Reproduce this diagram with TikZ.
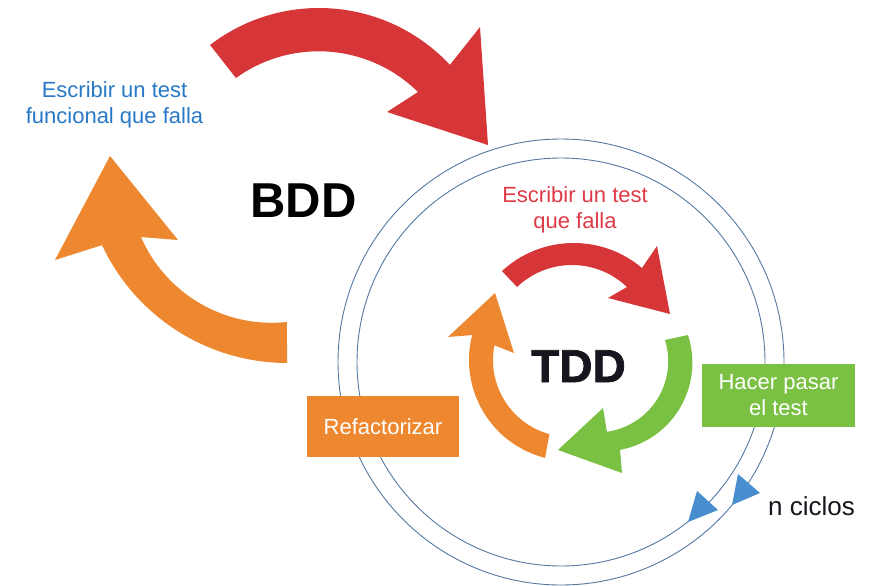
\documentclass[tikz,border=0pt]{standalone}
\usepackage{fontspec}
\usetikzlibrary{calc}
\setmainfont{Liberation Sans}
\newfontfamily\heavysans[FakeBold=1.6]{Liberation Sans Bold}
\definecolor{bandred}{RGB}{214,54,56}
\definecolor{bandorange}{RGB}{237,136,48}
\definecolor{bandgreen}{RGB}{122,193,67}
\definecolor{ringblue}{RGB}{84,120,160}
\definecolor{headblue}{RGB}{72,142,206}
\definecolor{textblue}{RGB}{40,120,200}
\definecolor{textred}{RGB}{222,58,70}
\definecolor{inkdark}{RGB}{22,22,30}
\begin{document}
\begin{tikzpicture}[x=1pt,y=-1pt,
  loopline/.style={draw=ringblue,line width=0.9pt},
  cyclehead/.style={fill=headblue},
  plainlabel/.style={anchor=base,inner sep=0pt,font=\fontsize{22}{26}\selectfont},
  stagebox/.style={inner sep=0pt,text=white,align=center,font=\fontsize{22}{26}\selectfont}]
\useasboundingbox (0,0) rectangle (889,586);

% the two loop rings around the TDD cycle
\coordinate (hub) at (561,362);
\draw[loopline] (hub) circle[radius=223];
\draw[loopline] (hub) circle[radius=204];

% outer BDD cycle: red arrow (top)
\fill[bandred] ($(319,187)+(-127.5:179)$) arc[start angle=-127.5,end angle=-43,radius=179]
  -- (480,27) -- (488,145) -- (387,112)
  -- ($(318.7,192.7)+(-45.4:141.4)$) arc[start angle=-45.4,end angle=-125.8,radius=141.4] -- cycle;

% outer BDD cycle: orange arrow (left)
\fill[bandorange] ($(287.4,158.3)+(90.1:204.7)$) arc[start angle=90.1,end angle=154.9,radius=204.7]
  -- (55,260) -- (110,156) -- (178,240)
  -- ($(271.8,180.2)+(156.5:142.6)$) arc[start angle=156.5,end angle=83.9,radius=142.6] -- cycle;

% inner TDD cycle: red arrow
\fill[bandred] ($(573.7,348.8)+(-132.7:105.8)$) arc[start angle=-132.7,end angle=-49.8,radius=105.8]
  -- (657,246) -- (670,314) -- (608,298)
  -- ($(572,344.7)+(-46.4:79.7)$) arc[start angle=-46.4,end angle=-133.6,radius=79.7] -- cycle;

% inner TDD cycle: green arrow
\fill[bandgreen] ($(603.7,362.7)+(-18.2:88.7)$) arc[start angle=-18.2,end angle=79.4,radius=88.7]
  -- (622,473) -- (558,450) -- (603,408)
  -- ($(596.9,361.2)+(81.9:71.3)$) arc[start angle=81.9,end angle=-17.3,radius=71.3] -- cycle;

% inner TDD cycle: orange arrow
\fill[bandorange] ($(570,360)+(104.3:101)$) arc[start angle=104.3,end angle=194.3,radius=101]
  -- (448,337) -- (495,293) -- (514,353)
  -- ($(570,360)+(191:77)$) arc[start angle=191,end angle=105.5,radius=77] -- cycle;

% arrowheads on the rings
\fill[cyclehead] (697,491) -- (718,510) -- (688,522) -- cycle;
\fill[cyclehead] (738,474) -- (760,493) -- (732,505) -- cycle;

% stage boxes
\node[stagebox,fill=bandorange,minimum width=152pt,minimum height=61pt] (refactor) at (383,426.5) {Refactorizar};
\node[stagebox,fill=bandgreen,minimum width=153pt,minimum height=63pt] (pass) at (778.5,395.5) {Hacer pasar\\el test};

% labels
\node[plainlabel,text=textblue] (bddline1) at (114.5,97) {Escribir un test};
\node[plainlabel,text=textblue] (bddline2) at (114.5,123) {funcional que falla};
\node[plainlabel,text=textred] (tddline1) at (575,202) {Escribir un test};
\node[plainlabel,text=textred] (tddline2) at (575,228) {que falla};
\node[anchor=base,inner sep=0pt,font=\fontsize{49}{55}\selectfont\bfseries] (bdd) at (303.5,217) {BDD};
\node[anchor=base,inner sep=0pt,text=inkdark,font=\fontsize{46}{52}\heavysans] (tdd) at (578.5,382) {TDD};
\node[anchor=base west,inner sep=0pt,text=inkdark,font=\fontsize{26}{30}\selectfont] (cycles) at (768,515) {n ciclos};
\end{tikzpicture}
\end{document}
